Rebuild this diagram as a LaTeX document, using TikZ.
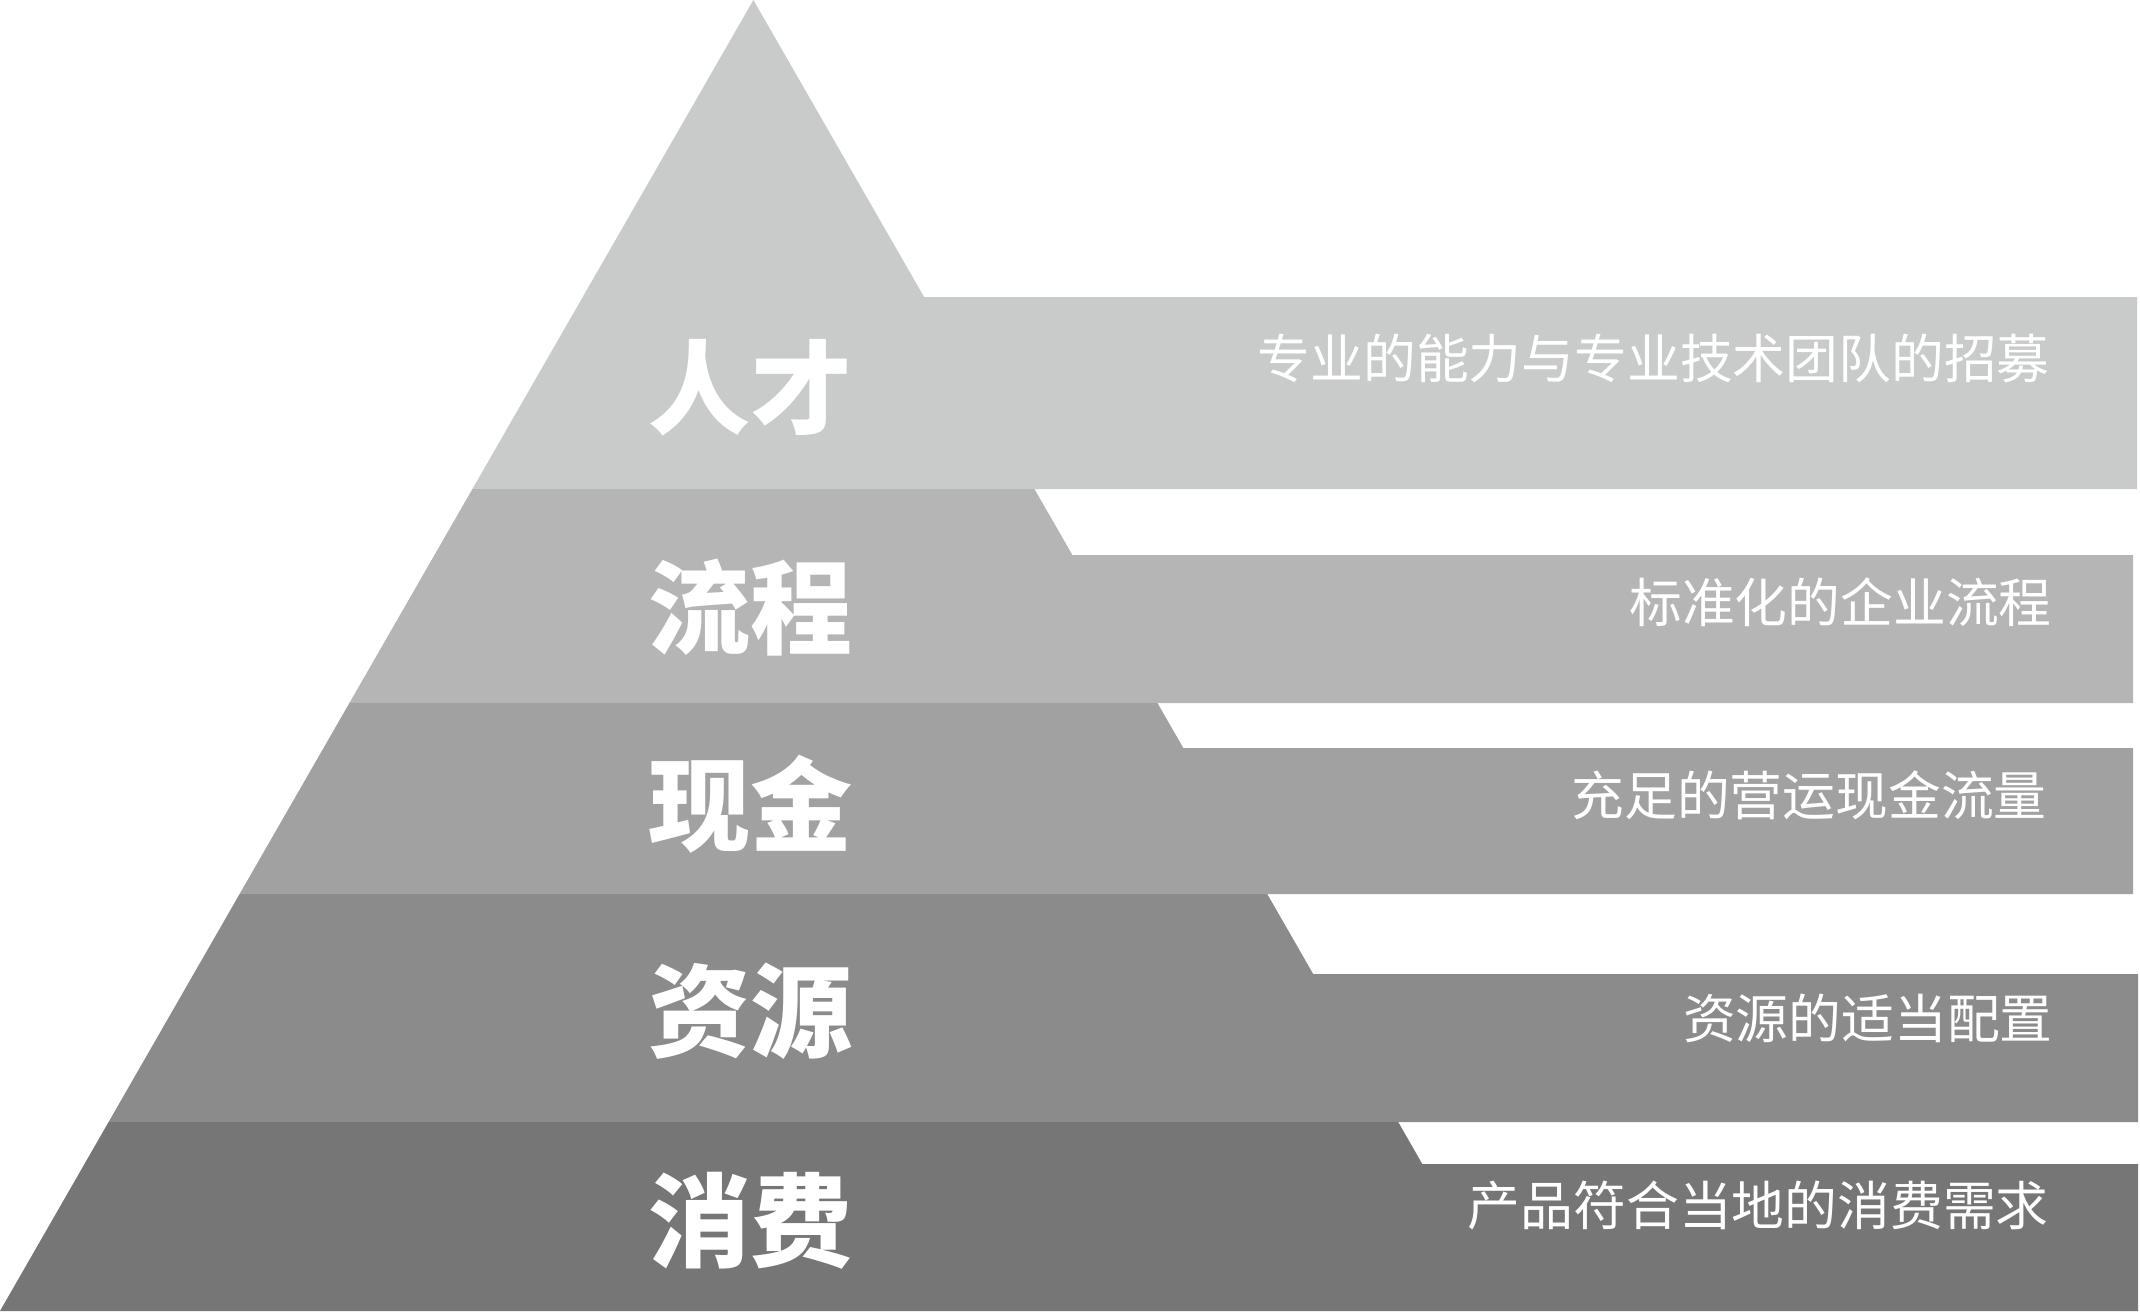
\documentclass[tikz,border=0pt]{standalone}
\usepackage{fontspec}
\newfontfamily\cjk{Noto Sans CJK SC}
\usepackage{tikz}
\usetikzlibrary{positioning}

\definecolor{tierA}{HTML}{C9CBCA}
\definecolor{tierB}{HTML}{B5B5B5}
\definecolor{tierC}{HTML}{A1A1A1}
\definecolor{tierD}{HTML}{8B8B8B}
\definecolor{tierE}{HTML}{767676}

\begin{document}
\begin{tikzpicture}[
		x=0.5pt,y=-0.5pt,
		t/.style={text=white,inner sep=0pt,font=\cjk\bfseries\fontsize{51}{51}\selectfont},
		d/.style={text=white,inner sep=0pt,anchor=east,font=\cjk\fontsize{26.4}{26.4}\selectfont}
		]
		
		\useasboundingbox (0,0) rectangle (2140,1311);
		
		% pyramid tiers with their bars
		\fill [tierA] (753.4,0) -- (924.1,297) -- (2137,297) -- (2137,489) -- (472.4,489) -- cycle;
		\fill [tierB] (472.4,489) -- (1034.4,489) -- (1072.4,555) -- (2133,555) -- (2133,703) -- (349.4,703) -- cycle;
		\fill [tierC] (349.4,703) -- (1157.4,703) -- (1183.3,748) -- (2133,748) -- (2133,894) -- (239.6,894) -- cycle;
		\fill [tierD] (239.6,894) -- (1267.2,894) -- (1313.2,974) -- (2138,974) -- (2138,1122) -- (108.6,1122) -- cycle;
		\fill [tierE] (108.6,1122) -- (1398.2,1122) -- (1422.3,1164) -- (2138,1164) -- (2138,1311) -- (0,1311) -- cycle;
		
		\node [t] (talent) at (750,388) {人才};
		\node [t] (process) at (750,608) {流程};
		\node [t] (cash) at (750,804) {现金};
		\node [t] (resource) at (750,1011) {资源};
		\node [t] (consume) at (750,1221) {消费};
		
		\node [d] (talent text) at (2050,358) {专业的能力与专业技术团队的招募};
		\node [d] (process text) at (2052,602) {标准化的企业流程};
		\node [d] (cash text) at (2047,795) {充足的营运现金流量};
		\node [d] (resource text) at (2053,1018) {资源的适当配置};
		\node [d] (consume text) at (2049,1205) {产品符合当地的消费需求};
		
	\end{tikzpicture}
\end{document}
